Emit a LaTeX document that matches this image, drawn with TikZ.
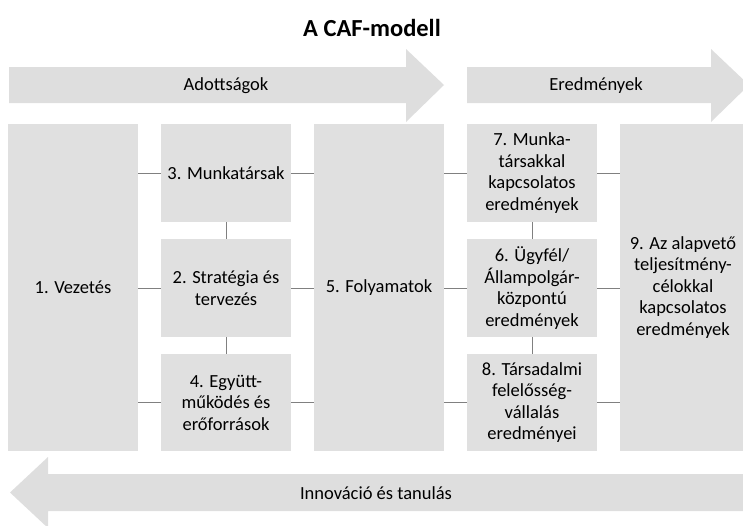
\documentclass[tikz,border=0pt]{standalone}
\usepackage{fontspec}
\setmainfont{Carlito}
\definecolor{boxgray}{RGB}{224,224,224}
\definecolor{arrowgray}{RGB}{222,222,222}
\definecolor{linegray}{RGB}{128,128,128}
\begin{document}
\begin{tikzpicture}[x=1pt,y=-1pt,
		box/.style={fill=boxgray,inner sep=0pt,align=center,minimum width=130pt,font=\fontsize{18.5}{21.5}\selectfont},
		link/.style={draw=linegray,line width=1pt},
		label/.style={font=\fontsize{18.5}{21}\selectfont}]
				\useasboundingbox (0,0) rectangle (743,525);
				\node[font=\fontsize{24.5}{28}\selectfont\bfseries] (title) at (372,28) {A CAF-modell};
				\fill[arrowgray] (9,67) -- (406,67) -- (406,49) -- (444,85) -- (406,122) -- (406,103) -- (9,103) -- cycle;
				\fill[arrowgray] (467,67) -- (711,67) -- (711,49) -- (749,85) -- (711,122) -- (711,103) -- (467,103) -- cycle;
				\fill[arrowgray] (750,474) -- (48,474) -- (48,457) -- (10,492.5) -- (48,528) -- (48,511) -- (750,511) -- cycle;
				\node[label] (inputs) at (226,86) {Adottságok};
				\node[label] (results) at (596,86) {Eredmények};
				\node[label] (learning) at (376,493) {Innováció és tanulás};
				\node[box,minimum height=327pt] (lead) at (73,287.5) {1. Vezetés};
				\node[box,minimum height=98pt] (people) at (226,173) {3. Munkatársak};
				\node[box,minimum height=98pt] (strategy) at (226,288) {2. Stratégia és\\tervezés};
				\node[box,minimum height=97pt] (partners) at (226,402.5) {4. Együtt-\\működés és\\erőforrások};
				\node[box,minimum height=327pt] (process) at (379,287.5) {5. Folyamatok};
				\node[box,minimum height=98pt] (peopleres) at (532,173) {7. Munka-\\társakkal\\kapcsolatos\\eredmények};
				\node[box,minimum height=98pt] (citizenres) at (532,288) {6. Ügyfél/\\Állampolgár-\\központú\\eredmények};
				\node[box,minimum height=97pt] (socialres) at (532,402.5) {8. Társadalmi\\felelősség-\\vállalás\\eredményei};
				\node[box,minimum width=126pt,minimum height=327pt] (keyres) at (683,287.5) {9. Az alapvető\\teljesítmény-\\célokkal\\kapcsolatos\\eredmények};
				\draw[link] (people.west) -- (people.west -| lead.east);
				\draw[link] (strategy.west) -- (strategy.west -| lead.east);
				\draw[link] (partners.west) -- (partners.west -| lead.east);
				\draw[link] (people.east) -- (people.east -| process.west);
				\draw[link] (strategy.east) -- (strategy.east -| process.west);
				\draw[link] (partners.east) -- (partners.east -| process.west);
				\draw[link] (peopleres.west) -- (peopleres.west -| process.east);
				\draw[link] (citizenres.west) -- (citizenres.west -| process.east);
				\draw[link] (socialres.west) -- (socialres.west -| process.east);
				\draw[link] (peopleres.east) -- (peopleres.east -| keyres.west);
				\draw[link] (citizenres.east) -- (citizenres.east -| keyres.west);
				\draw[link] (socialres.east) -- (socialres.east -| keyres.west);
				\draw[link] (people.south) -- (strategy.north);
				\draw[link] (strategy.south) -- (partners.north);
				\draw[link] (peopleres.south) -- (citizenres.north);
				\draw[link] (citizenres.south) -- (socialres.north);
			\end{tikzpicture}
\end{document}
